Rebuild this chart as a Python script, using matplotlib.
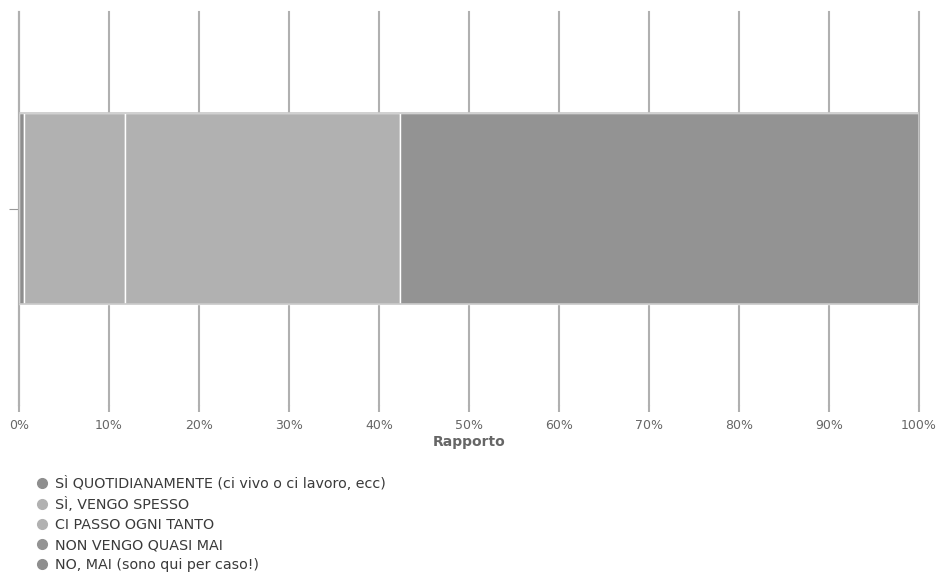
import matplotlib.pyplot as plt
from matplotlib.lines import Line2D
from matplotlib.ticker import PercentFormatter

# dati (percentuali)
categorie = [
    "SÌ QUOTIDIANAMENTE (ci vivo o ci lavoro, ecc)",
    "SÌ, VENGO SPESSO",
    "CI PASSO OGNI TANTO",
    "NON VENGO QUASI MAI",
    "NO, MAI (sono qui per caso!)",
]
valori = [0.5, 11.3, 30.5, 57.7, 0.0]
colori = ["#8e8e8e", "#b1b1b1", "#b1b1b1", "#939393", "#8e8e8e"]
tick_x = [0, 10, 20, 30, 40, 50, 60, 70, 80, 90, 100]

plt.rcParams["font.family"] = ["DejaVu Sans"]

fig = plt.figure(figsize=(9.4, 5.75), dpi=100)
ax = fig.add_axes([19 / 940, 1 - 405 / 575, 900 / 940, 393 / 575])

left = 0
for v, c in zip(valori, colori):
    if v > 0:
        ax.barh(0, v, left=left, height=0.967, color=c, edgecolor="white",
                linewidth=1, zorder=3)
    left += v
# contorno chiaro della barra
ax.barh(0, sum(valori), height=0.967, fill=False, edgecolor="#c8c8c8",
        linewidth=1.2, zorder=4)

ax.set_xlim(0, 100)
ax.set_ylim(-1, 1)
ax.set_xticks(tick_x)
ax.xaxis.set_major_formatter(PercentFormatter(decimals=0))
ax.set_yticks([0])
ax.set_yticklabels([""])
ax.grid(axis="x", color="#b0b0b0", linewidth=1.5, zorder=0)
for g in ax.get_xgridlines():
    g.set_clip_on(False)
ax.tick_params(axis="x", colors="#b0b0b0", labelcolor="#666666", length=5,
               width=1.5, labelsize=9, pad=5)
ax.tick_params(axis="y", colors="#999999", length=7, width=0.8)
for s in ["top", "right", "bottom"]:
    ax.spines[s].set_visible(False)
ax.spines["left"].set_color("#b0b0b0")
ax.spines["left"].set_linewidth(1.5)
ax.set_xlabel("Rapporto", fontsize=10, fontweight="bold", color="#666666",
              labelpad=2)

handles = [Line2D([], [], marker="o", linestyle="none", markersize=7,
                  markerfacecolor=c, markeredgecolor=c) for c in colori]
fig.legend(handles, categorie, loc="upper left",
           bbox_to_anchor=(26 / 940, 1 - 469 / 575), frameon=False,
           fontsize=10.3, labelcolor="#3a3a3a", handletextpad=0.3,
           labelspacing=0.42, borderpad=0, handlelength=1.2)

fig.savefig("out.png", dpi=100)
